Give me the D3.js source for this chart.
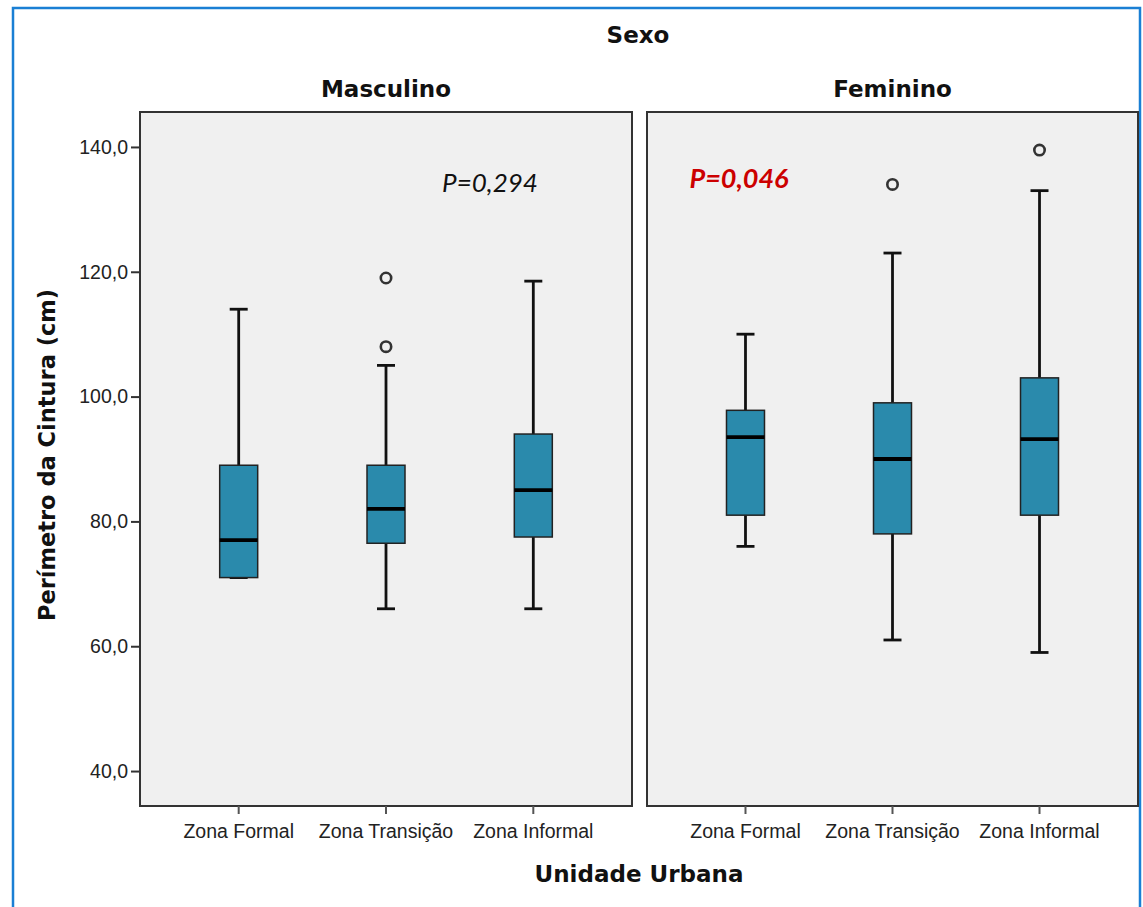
<!DOCTYPE html>
<html>
<head>
<meta charset="utf-8">
<script src="https://cdn.jsdelivr.net/npm/d3@7"></script>
<style>
  html, body { margin: 0; padding: 0; background: #fff; }
  svg { display: block; }
</style>
</head>
<body>
<svg id="chart" width="1143" height="907"></svg>
<script>
// Waist circumference by urban zone, split by sex
const sexes = ["Masculino", "Feminino"];
const zones = ["Zona Formal", "Zona Transição", "Zona Informal"];
const yTicks = [40, 60, 80, 100, 120, 140];

// Box-plot statistics per sex (rows) and zone (columns)
const whiskerLow  = [[71, 66, 66],     [76, 61, 59]];
const q1          = [[71, 76.5, 77.5], [81, 78, 81]];
const median      = [[77, 82, 85],     [93.5, 90, 93.2]];
const q3          = [[89, 89, 94],     [97.8, 99, 103]];
const whiskerHigh = [[114, 105, 118.5],[110, 123, 133]];
const outliers    = [[[], [108, 119], []], [[], [134], [139.5]]];

const pLabels = ["P=0,294", "P=0,046"];

const svg = d3.select("#chart");

// outer frame
svg.append("path")
  .attr("d", "M13,915 L13,8 L1140,8 L1140,915")
  .attr("fill", "none")
  .attr("stroke", "#1a7fd4")
  .attr("stroke-width", 2.5);

const panelTop = 112, panelBottom = 806;
const panelX = [[140, 632], [647, 1138]];

const y = d3.scaleLinear().domain([34.4, 145.6]).range([panelBottom, panelTop]);

const boxFill = "#2a8aac";
const boxW = 38, capW = 18;

sexes.forEach((sex, si) => {
  const [x0, x1] = panelX[si];
  const x = d3.scaleBand().domain(zones).range([x0, x1]).paddingInner(0).paddingOuter(0.17);
  const cx = z => x(z) + x.bandwidth() / 2;

  const g = svg.append("g");
  g.append("rect")
    .attr("x", x0).attr("y", panelTop)
    .attr("width", x1 - x0).attr("height", panelBottom - panelTop)
    .attr("fill", "#f0f0f0")
    .attr("stroke", "#333").attr("stroke-width", 2);

  // panel header
  svg.append("text")
    .attr("x", (x0 + x1) / 2).attr("y", 97)
    .attr("text-anchor", "middle")
    .attr("font-family", "DejaVu Sans").attr("font-weight", "bold")
    .attr("font-size", 23).attr("fill", "#111")
    .text(sex);

  // x axis
  const xAxis = d3.axisBottom(x).tickSize(8).tickSizeOuter(0).tickPadding(6);
  const ax = svg.append("g").attr("transform", `translate(0,${panelBottom})`).call(xAxis);
  ax.select(".domain").remove();
  ax.selectAll(".tick line").attr("stroke", "#555").attr("stroke-width", 2);
  ax.selectAll(".tick text")
    .attr("font-family", "Liberation Sans").attr("font-size", 19.5)
    .attr("fill", "#222").attr("dy", "0.92em");

  zones.forEach((z, zi) => {
    const c = cx(z);
    // whiskers
    g.append("line").attr("x1", c).attr("x2", c)
      .attr("y1", y(whiskerHigh[si][zi])).attr("y2", y(q3[si][zi]))
      .attr("stroke", "#111").attr("stroke-width", 2.8);
    g.append("line").attr("x1", c).attr("x2", c)
      .attr("y1", y(q1[si][zi])).attr("y2", y(whiskerLow[si][zi]))
      .attr("stroke", "#111").attr("stroke-width", 2.8);
    [whiskerHigh[si][zi], whiskerLow[si][zi]].forEach(v => {
      g.append("line").attr("x1", c - capW / 2).attr("x2", c + capW / 2)
        .attr("y1", y(v)).attr("y2", y(v))
        .attr("stroke", "#111").attr("stroke-width", 2.8);
    });
    // box
    g.append("rect")
      .attr("x", c - boxW / 2).attr("y", y(q3[si][zi]))
      .attr("width", boxW).attr("height", y(q1[si][zi]) - y(q3[si][zi]))
      .attr("fill", boxFill).attr("stroke", "#222").attr("stroke-width", 1.5);
    // median
    g.append("line").attr("x1", c - boxW / 2).attr("x2", c + boxW / 2)
      .attr("y1", y(median[si][zi])).attr("y2", y(median[si][zi]))
      .attr("stroke", "#000").attr("stroke-width", 3.8);
    // outliers
    outliers[si][zi].forEach(v => {
      g.append("circle").attr("cx", c).attr("cy", y(v)).attr("r", 5.2)
        .attr("fill", "none").attr("stroke", "#333").attr("stroke-width", 2.6);
    });
  });
});

// y axis on the left panel
const yAxis = d3.axisLeft(y).tickValues(yTicks).tickSize(9).tickPadding(3)
  .tickFormat(d => d3.format(".1f")(d).replace(".", ","));
const ay = svg.append("g").attr("transform", `translate(${panelX[0][0]},0)`).call(yAxis);
ay.select(".domain").remove();
ay.selectAll(".tick line").attr("stroke", "#333").attr("stroke-width", 2);
ay.selectAll(".tick text")
  .attr("font-family", "Liberation Sans").attr("font-size", 19.5).attr("fill", "#222");

// p-values
svg.append("text")
  .attr("x", 490).attr("y", 192).attr("text-anchor", "middle")
  .attr("font-family", "Lato").attr("font-style", "italic")
  .attr("font-size", 26).attr("fill", "#111")
  .text(pLabels[0]);
svg.append("text")
  .attr("x", 739).attr("y", 188).attr("text-anchor", "middle")
  .attr("font-family", "Lato").attr("font-style", "italic").attr("font-weight", "bold")
  .attr("font-size", 27).attr("fill", "#cc0000")
  .text(pLabels[1]);

// titles
svg.append("text")
  .attr("x", 638).attr("y", 43).attr("text-anchor", "middle")
  .attr("font-family", "DejaVu Sans").attr("font-weight", "bold")
  .attr("font-size", 23).attr("fill", "#111")
  .text("Sexo");
svg.append("text")
  .attr("x", 639).attr("y", 882).attr("text-anchor", "middle")
  .attr("font-family", "DejaVu Sans").attr("font-weight", "bold")
  .attr("font-size", 23).attr("fill", "#111")
  .text("Unidade Urbana");
svg.append("text")
  .attr("transform", "translate(55,455) rotate(-90)")
  .attr("text-anchor", "middle")
  .attr("font-family", "DejaVu Sans").attr("font-weight", "bold")
  .attr("font-size", 22.5).attr("fill", "#111")
  .text("Perímetro da Cintura (cm)");
</script>
</body>
</html>
